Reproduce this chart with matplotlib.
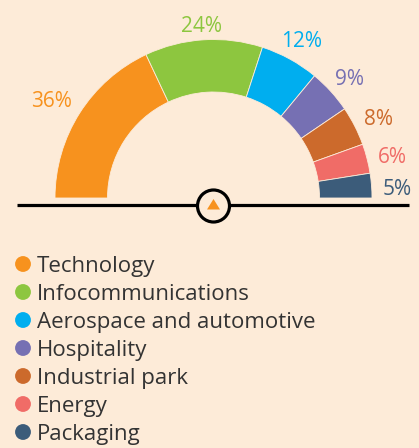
import matplotlib
matplotlib.use('Agg')
import matplotlib.pyplot as plt
from matplotlib.patches import Circle, Polygon
import numpy as np

plt.rcParams['font.family'] = ['Open Sans', 'DejaVu Sans']

# sector shares (%)
sectors = ['Technology', 'Infocommunications', 'Aerospace and automotive',
           'Hospitality', 'Industrial park', 'Energy', 'Packaging']
shares = [36, 24, 12, 9, 8, 6, 5]
colors = ['#F7921E', '#8DC63F', '#00AEEF', '#7670B3', '#CC6A2C', '#F06C67', '#3C5C7A']

bg = '#FDEBD8'
W, H = 419, 448

fig = plt.figure(figsize=(W / 100, H / 100), dpi=100, facecolor=bg)
ax = fig.add_axes([0, 0, 1, 1])
ax.set_facecolor(bg)

# half donut: shares scaled so the total fills 180 degrees
cx, cy = 213.5, H - 198
R, r_in = 158.5, 106
total = sum(shares)
ax.pie([s / (2 * total) for s in shares], colors=colors, normalize=False,
       startangle=180, counterclock=False, center=(cx, cy), radius=R,
       wedgeprops=dict(width=R - r_in, linewidth=0.6, edgecolor=bg))
ax.set_xlim(0, W)
ax.set_ylim(0, H)
ax.set_aspect('auto')

# percentage labels: text box kept just outside a circle around the donut
renderer = fig.canvas.get_renderer()
r_lab = 170
start = 180.0
for s, c in zip(shares, colors):
    span = 180.0 * s / total
    mid = np.deg2rad(start - span / 2)
    start -= span
    t = ax.text(cx, cy, f'{s}%', color=c, fontsize=15, ha='center', va='center')
    bb = t.get_window_extent(renderer)
    d = r_lab + bb.width / 2 * abs(np.cos(mid)) + bb.height / 2 * 0.6 * abs(np.sin(mid))
    t.set_position((cx + d * np.cos(mid) - 1, cy + d * np.sin(mid) - 6))

# base line with the pointer badge
ax.plot([17, 409], [H - 205, H - 205], color='black', lw=2.3, solid_capstyle='butt', zorder=3)
ax.add_patch(Circle((213.5, H - 206), 16, facecolor=bg, edgecolor='black', lw=2.3, zorder=4))
ax.add_patch(Polygon([(207, H - 209.5), (220, H - 209.5), (213.5, H - 199)],
                     closed=True, facecolor='#F7921E', edgecolor='none', zorder=5))

# legend
for i, (name, c) in enumerate(zip(sectors, colors)):
    y = H - (264 + 28 * i)
    ax.scatter([23], [y], s=130, color=c, edgecolors='none')
    ax.text(37, y - 8, name, fontsize=16, color='#333333', ha='left', va='baseline')

ax.axis('off')

plt.savefig('out.png', dpi=100, facecolor=bg)
plt.close()
